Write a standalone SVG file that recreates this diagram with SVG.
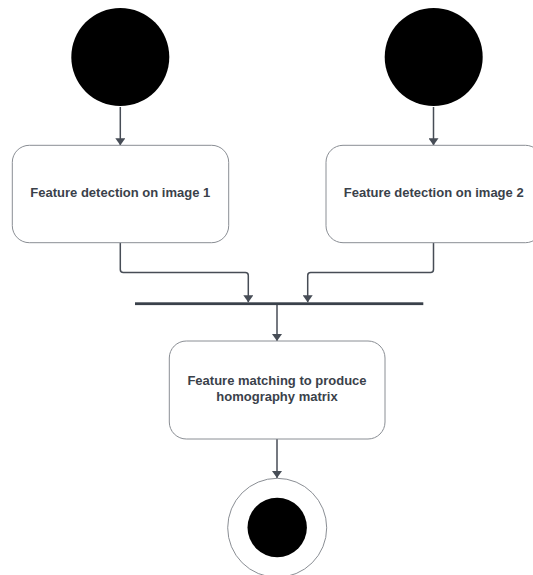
<svg xmlns="http://www.w3.org/2000/svg" width="533" height="575" viewBox="0 0 533 575">
<style>
.box{fill:#ffffff;stroke:#8a8e94;stroke-width:1}
.start{fill:#000000}
.lbl{font-family:"Liberation Sans",Arial,sans-serif;font-weight:bold;font-size:13px;fill:#3a414a;text-anchor:middle}
.conn{fill:none;stroke:#474d56;stroke-width:1.5;marker-end:url(#arr)}
</style>
<defs>
<marker id="arr" viewBox="0 0 10 10" refX="10" refY="5" markerWidth="7" markerHeight="10" markerUnits="userSpaceOnUse" orient="auto" preserveAspectRatio="none">
<path d="M0,0 L10,5 L0,10 Z" fill="#474d56"/>
</marker>
</defs>
<rect width="533" height="575" fill="#ffffff"/>
<g id="connectors">
<path class="conn" d="M120.3,107 V145.3"/>
<path class="conn" d="M433.5,107 V145.3"/>
<path class="conn" d="M120.3,242.7 V269.5 Q120.3,272.5 123.3,272.5 H245.3 Q248.3,272.5 248.3,275.5 V302.3"/>
<path class="conn" d="M433.5,242.7 V269.5 Q433.5,272.5 430.5,272.5 H310.7 Q307.7,272.5 307.7,275.5 V302.3"/>
<path class="conn" d="M277,305 V341"/>
<path class="conn" d="M277,439 V478"/>
</g>
<g id="start1"><circle class="start" cx="120.3" cy="57" r="49"/></g>
<g id="start2"><circle class="start" cx="433.7" cy="57" r="49"/></g>
<g id="detect1">
<rect class="box" x="12.3" y="145.3" width="216.4" height="97.4" rx="17" ry="17"/>
<text class="lbl" x="120.3" y="197.3">Feature detection on image 1</text>
</g>
<g id="detect2">
<rect class="box" x="326" y="145.3" width="216.4" height="97.4" rx="17" ry="17"/>
<text class="lbl" x="433.7" y="197.3">Feature detection on image 2</text>
</g>
<g id="join"><rect x="135" y="302.3" width="288.3" height="2.8" fill="#3a414a"/></g>
<g id="match">
<rect class="box" x="169.3" y="341" width="215.7" height="98" rx="17" ry="17"/>
<text class="lbl" x="277" y="385.3">Feature matching to produce</text>
<text class="lbl" x="277" y="401">homography matrix</text>
</g>
<g id="end">
<circle cx="277.2" cy="527.8" r="49.5" fill="#ffffff" stroke="#8a8e94" stroke-width="1"/>
<circle class="start" cx="277.2" cy="527.5" r="29.7"/>
</g>
</svg>
